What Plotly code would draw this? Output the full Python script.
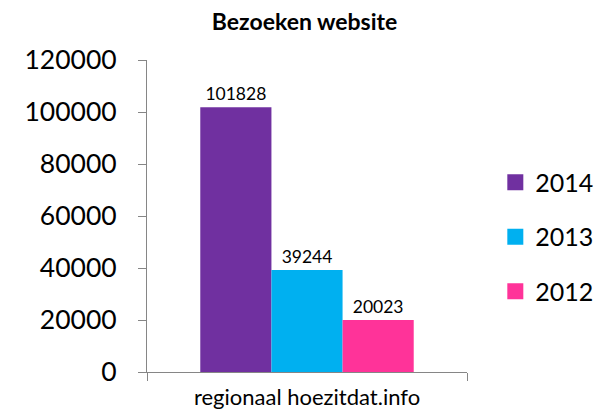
import plotly.graph_objects as go

category = ["regionaal hoezitdat.info"]
years = ["2014", "2013", "2012"]
visits = [101828, 39244, 20023]
colors = ["#7030A0", "#00B0F0", "#FF3399"]
y_ticks = [0, 20000, 40000, 60000, 80000, 100000, 120000]

FONT = "Lato, Carlito, Calibri, sans-serif"

fig = go.Figure()
for yr, v, c in zip(years, visits, colors):
    fig.add_trace(go.Bar(
        x=category, y=[v], name=yr, marker=dict(color=c, line=dict(width=0)),
        text=[str(v)], textposition="outside", cliponaxis=False,
        textfont=dict(size=17.5, color="#000000", family=FONT),
        showlegend=False,
    ))
for yr, c in zip(years, colors):
    fig.add_trace(go.Scatter(
        x=[None], y=[None], mode="markers", name=yr, legendgroup=yr,
        marker=dict(symbol="square", size=18, color=c),
    ))

# page body has an 8px margin, so figure coordinates are offset by 8px
fig.update_layout(
    width=604, height=405,
    paper_bgcolor="white", plot_bgcolor="white",
    margin=dict(l=139, r=145, t=52, b=41, autoexpand=False),
    barmode="group", bargap=0.333, bargroupgap=0,
    title=dict(text="<b>Bezoeken website</b>", x=0.491, xanchor="center", y=1 - 14 / 405, yanchor="middle",
               font=dict(size=23, family=FONT, color="#000000")),
    font=dict(family=FONT, color="#000000"),
    legend=dict(x=1.0885, xanchor="left", y=0.433, yanchor="middle",
                font=dict(size=25, family=FONT, color="#000000"),
                tracegroupgap=19, itemwidth=30, bgcolor="rgba(0,0,0,0)"),
    showlegend=True,
)
fig.update_yaxes(
    range=[0, 120000], tickvals=y_ticks, ticktext=[str(t) for t in y_ticks],
    showgrid=False, zeroline=False, showline=True, linecolor="#868686", linewidth=1,
    ticks="outside", ticklen=8, tickcolor="#868686", automargin=False,
    tickfont=dict(size=26.5, family=FONT, color="#000000"), ticklabelstandoff=16,
)
fig.update_xaxes(
    showgrid=False, showline=True, linecolor="#868686", linewidth=1,
    ticks="outside", ticklen=8, tickcolor="#868686", tickson="boundaries", automargin=False,
    tickfont=dict(size=22, family=FONT, color="#000000"), ticklabelstandoff=6,
)

fig.write_html("out.html")
